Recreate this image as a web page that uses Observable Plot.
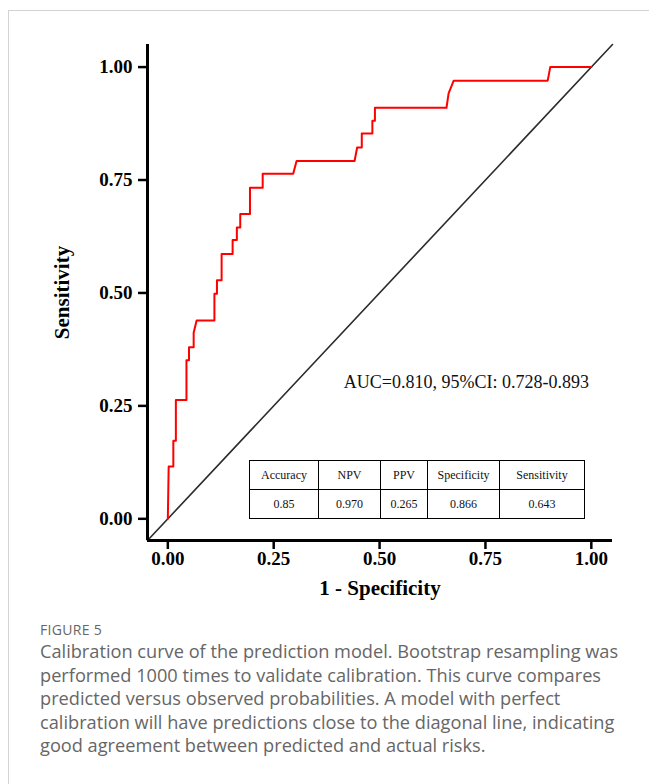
<!DOCTYPE html>
<html>
<head>
<meta charset="utf-8">
<script src="https://cdn.jsdelivr.net/npm/d3@7"></script>
<script src="https://cdn.jsdelivr.net/npm/@observablehq/plot@0.6"></script>
<style>
  html, body { margin: 0; padding: 0; background: #fff; }
  #frame { position: absolute; left: 8px; top: 10px; width: 640px; height: 773px;
           border-top: 1px solid #d3d3d3; border-left: 1px solid #d3d3d3; }
  #chart { position: absolute; left: 0; top: 0; }
  #metrics { position: absolute; left: 240px; top: 449px; border-collapse: collapse; table-layout: fixed; width: 330px;
             font-family: "Liberation Serif", "Times New Roman", serif; font-size: 12px; color: #111; }
  #metrics td { border: 1.5px solid #000; text-align: center; padding: 0; height: 28px; }
  #caption { position: absolute; left: 31px; top: 609px; width: 610px;
             font-family: "Open Sans", "Noto Sans", sans-serif; color: #666; }
  #caption .fig { font-size: 14px; letter-spacing: 0.3px; line-height: 20px; margin-bottom: 0px; }
  #caption .line { font-size: 18.2px; line-height: 23.5px; white-space: nowrap; }
</style>
</head>
<body>
<div id="frame">
  <div id="chart"></div>
  <table id="metrics"></table>
  <div id="caption"></div>
</div>
<script>
// ROC curve points (1 - specificity, sensitivity)
const fpr = [0, 0.002, 0.013, 0.013, 0.019, 0.019, 0.044, 0.044, 0.050, 0.050, 0.061, 0.061, 0.068, 0.110, 0.110, 0.116, 0.116, 0.127, 0.127, 0.153, 0.153, 0.163, 0.163, 0.171, 0.171, 0.194, 0.194, 0.224, 0.224, 0.296, 0.304, 0.441, 0.447, 0.458, 0.458, 0.483, 0.483, 0.489, 0.489, 0.658, 0.663, 0.675, 0.897, 0.903, 1.0];
const tpr = [0, 0.116, 0.116, 0.173, 0.173, 0.263, 0.263, 0.351, 0.351, 0.380, 0.380, 0.412, 0.439, 0.439, 0.498, 0.498, 0.528, 0.528, 0.586, 0.586, 0.617, 0.617, 0.645, 0.645, 0.675, 0.675, 0.733, 0.733, 0.764, 0.764, 0.792, 0.792, 0.822, 0.822, 0.853, 0.853, 0.881, 0.881, 0.910, 0.910, 0.942, 0.970, 0.970, 1.0, 1.0];
const ticks = [0, 0.25, 0.5, 0.75, 1];
const tickLabels = ["0.00", "0.25", "0.50", "0.75", "1.00"];
const aucText = "AUC=0.810, 95%CI: 0.728-0.893";
const metricNames = ["Accuracy", "NPV", "PPV", "Specificity", "Sensitivity"];
const metricValues = ["0.85", "0.970", "0.265", "0.866", "0.643"];
const xLabel = "1 - Specificity";
const yLabel = "Sensitivity";
const figureLabel = "FIGURE 5";
const captionLines = [
  "Calibration curve of the prediction model. Bootstrap resampling was",
  "performed 1000 times to validate calibration. This curve compares",
  "predicted versus observed probabilities. A model with perfect",
  "calibration will have predictions close to the diagonal line, indicating",
  "good agreement between predicted and actual risks."
];

const lo = -0.048, hi = 1.05;
const roc = fpr.map((x, i) => ({x, y: tpr[i]}));
const diagonal = [{x: lo, y: lo}, {x: hi, y: hi}];
const serif = "Liberation Serif, Times New Roman, serif";
const fmt = d => tickLabels[ticks.indexOf(d)];

const chart = Plot.plot({
  width: 640,
  height: 600,
  marginLeft: 138,
  marginRight: 37,
  marginTop: 33,
  marginBottom: 71,
  style: {fontFamily: serif, background: "transparent", color: "#000"},
  x: {domain: [lo, hi]},
  y: {domain: [lo, hi]},
  marks: [
    Plot.line(diagonal, {x: "x", y: "y", stroke: "#2b2b2b", strokeWidth: 1.6}),
    Plot.line(roc, {x: "x", y: "y", stroke: "#ff0000", strokeWidth: 2}),
    Plot.axisX({ticks, tickFormat: fmt, tickSize: 9, strokeWidth: 2.5, tickPadding: 2, fontSize: 19, fontWeight: "bold", label: null}),
    Plot.axisY({ticks, tickFormat: fmt, tickSize: 9, strokeWidth: 2.5, tickPadding: 6, fontSize: 19, fontWeight: "bold", label: null}),
    Plot.ruleX([lo], {stroke: "#000", strokeWidth: 3}),
    Plot.ruleY([lo], {stroke: "#000", strokeWidth: 3}),
    Plot.text([xLabel], {frameAnchor: "bottom", dy: 48, text: d => d, fontSize: 21, fontWeight: "bold", lineAnchor: "middle", textAnchor: "middle", fill: "#000"}),
    Plot.text([yLabel], {frameAnchor: "left", dx: -85, rotate: -90, text: d => d, fontSize: 21, fontWeight: "bold", lineAnchor: "middle", textAnchor: "middle", fill: "#000"}),
    Plot.text([aucText], {x: () => 0.705, y: () => 0.302, text: d => d, fontSize: 18, fill: "#111"})
  ]
});
document.getElementById("chart").appendChild(chart);

const widths = [68, 61, 46, 71, 84];
const table = document.getElementById("metrics");
[metricNames, metricValues].forEach(row => {
  const tr = document.createElement("tr");
  row.forEach((v, i) => {
    const td = document.createElement("td");
    td.textContent = v;
    td.style.width = widths[i] + "px";
    tr.appendChild(td);
  });
  table.appendChild(tr);
});

const cap = document.getElementById("caption");
const f = document.createElement("div"); f.className = "fig"; f.textContent = figureLabel;
cap.appendChild(f);
captionLines.forEach(l => {
  const d = document.createElement("div"); d.className = "line"; d.textContent = l;
  cap.appendChild(d);
});
</script>
</body>
</html>
